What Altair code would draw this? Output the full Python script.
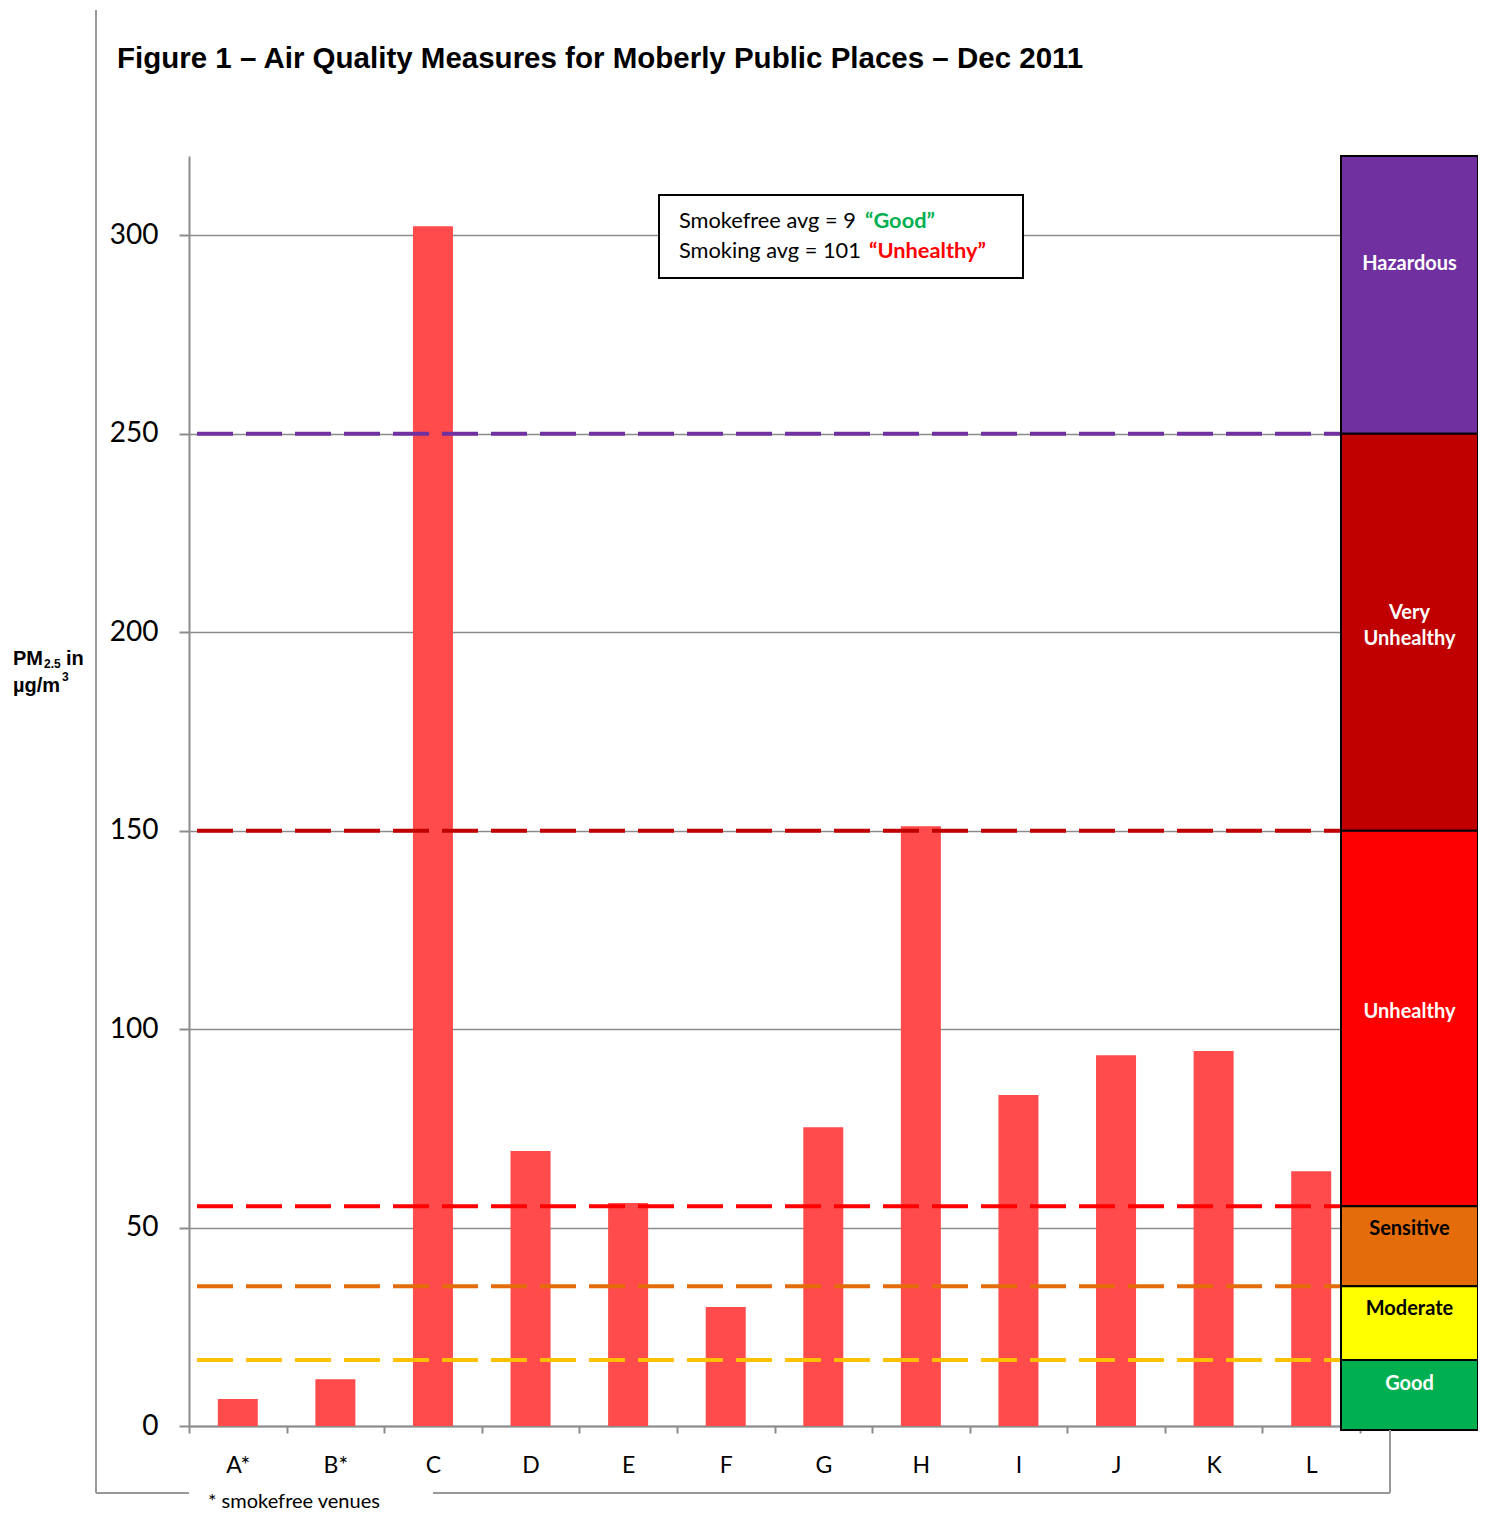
import altair as alt
import pandas as pd

# ---------------- data ----------------
venues = ["A*", "B*", "C", "D", "E", "F", "G", "H", "I", "J", "K", "L"]
pm25 = [6.8, 11.8, 302.3, 69.3, 56.2, 30.0, 75.3, 151.1, 83.4, 93.4, 94.5, 64.2]

y_ticks = [0, 50, 100, 150, 200, 250, 300]

aqi_lines = [250, 150, 55.4, 35.2, 16.6]
aqi_line_colors = ["#7030A0", "#C00000", "#FF0000", "#E46C0A", "#FFC000"]

band_names = ["Hazardous", "Very\nUnhealthy", "Unhealthy", "Sensitive", "Moderate", "Good"]
band_low = [250, 150, 55.4, 35.2, 16.6, -1]
band_high = [320, 250, 150, 55.4, 35.2, 16.6]
band_colors = ["#7030A0", "#C00000", "#FF0000", "#E46C0A", "#FFFF00", "#00B050"]
band_text_colors = ["white", "white", "white", "black", "black", "white"]
band_label_y = [292.7, 204.8, 104.3, 49.6, 29.5, 10.6]

title_text = "Figure 1 \u2013 Air Quality Measures for Moberly Public Places \u2013 Dec 2011"
note_text = "* smokefree venues"
ann_line1 = "Smokefree avg = 9"
ann_word1 = "\u201cGood\u201d"
ann_line2 = "Smoking avg = 101"
ann_word2 = "\u201cUnhealthy\u201d"

# ---------------- chart ----------------
df_bars = pd.DataFrame({"venue": venues, "pm": pm25})
df_lines = pd.DataFrame({"v": aqi_lines, "c": aqi_line_colors})
df_bands = pd.DataFrame({
    "name": band_names, "lo": band_low, "hi": band_high,
    "col": band_colors, "tc": band_text_colors, "ly": band_label_y,
})

yscale = alt.Scale(domain=[0, 320], nice=False)
GRAY = "#8C8C8C"

bars = alt.Chart(df_bars).mark_bar(
    color="#FF4B4B", width=alt.RelativeBandSize(0.41)
).encode(
    x=alt.X("venue:N", sort=venues, title=None,
            scale=alt.Scale(paddingInner=0, paddingOuter=0),
            axis=alt.Axis(labelAngle=0, tickBand="extent", tickSize=7, tickWidth=2,
                          tickColor=GRAY, domainColor=GRAY, domainWidth=2,
                          labelFont="Lato", labelFontSize=23, labelColor="black",
                          labelPadding=21, grid=False)),
    y=alt.Y("pm:Q", scale=yscale, title=None,
            axis=alt.Axis(values=y_ticks, tickSize=10, tickWidth=2, tickColor=GRAY,
                          domainColor=GRAY, domainWidth=2, gridColor=GRAY, gridWidth=1.5,
                          labelFont="Lato", labelFontSize=28, labelColor="black",
                          labelPadding=21)),
)

rules = alt.Chart(df_lines).mark_rule(strokeWidth=4, strokeDash=[36, 13]).encode(
    y=alt.Y("v:Q", scale=yscale, title=None),
    color=alt.Color("c:N", scale=None),
)

bands = alt.Chart(df_bands).mark_rect(stroke="black", strokeWidth=2).encode(
    x=alt.value(1152), x2=alt.value(1289),
    y=alt.Y("lo:Q", scale=yscale, title=None), y2="hi:Q",
    color=alt.Color("col:N", scale=None),
)

band_text = alt.Chart(df_bands).mark_text(
    font="Lato", fontSize=20, fontWeight="bold", lineBreak="\n", lineHeight=26,
    align="center", baseline="middle",
).encode(
    x=alt.value(1220.5),
    y=alt.Y("ly:Q", scale=yscale, title=None),
    text="name:N",
    color=alt.Color("tc:N", scale=None),
)


def one(text):
    return alt.Chart(pd.DataFrame({"t": [text]}))


def label(text, x, y, **style):
    return one(text).mark_text(align="left", baseline="alphabetic", **style).encode(
        x=alt.value(x), y=alt.value(y), text="t:N")


box = one("").mark_rect(fill="white", stroke="black", strokeWidth=2).encode(
    x=alt.value(470), x2=alt.value(834), y=alt.value(39), y2=alt.value(122))

AF = 21.8
texts = [
    label(ann_line1, 490, 72, font="Lato", fontSize=AF, color="black"),
    label(ann_word1, 676, 72, font="Lato", fontSize=AF, fontWeight="bold", color="#00B050"),
    label(ann_line2, 490, 102, font="Lato", fontSize=AF, color="black"),
    label(ann_word2, 680, 102, font="Lato", fontSize=AF, fontWeight="bold", color="#FF0000"),
    label(title_text, -72, -88, font="Liberation Sans", fontSize=29.5, fontWeight="bold", color="black"),
    label(note_text, 19, 1352, font="Lato", fontSize=20, color="black"),
    label("PM", -176, 509, font="Liberation Sans", fontSize=20, fontWeight="bold", color="black"),
    label("2.5", -145, 512, font="Liberation Sans", fontSize=12, fontWeight="bold", color="black"),
    label("in", -123, 509, font="Liberation Sans", fontSize=20, fontWeight="bold", color="black"),
    label("\u00b5g/m", -176, 536, font="Liberation Sans", fontSize=20, fontWeight="bold", color="black"),
    label("3", -127, 525, font="Liberation Sans", fontSize=12, fontWeight="bold", color="black"),
]

FRAME = "#999999"
frame = [
    one("").mark_rule(color=FRAME, strokeWidth=2).encode(x=alt.value(-93), y=alt.value(-146), y2=alt.value(1337)),
    one("").mark_rule(color=FRAME, strokeWidth=2).encode(x=alt.value(-93), x2=alt.value(0), y=alt.value(1337)),
    one("").mark_rule(color=FRAME, strokeWidth=2).encode(x=alt.value(244), x2=alt.value(1201), y=alt.value(1337)),
    one("").mark_rule(color=FRAME, strokeWidth=2).encode(x=alt.value(1201), y=alt.value(1274), y2=alt.value(1337)),
]

chart = alt.layer(bars, rules, bands, band_text, box, *texts, *frame).properties(
    width=1171, height=1270,
    autosize=alt.AutoSizeParams(type="none"),
    padding={"left": 181, "top": 148, "right": 118, "bottom": 88},
    background="white",
).configure_view(stroke=None)

chart.save("out.html", embed_options={"renderer": "svg", "actions": False})
